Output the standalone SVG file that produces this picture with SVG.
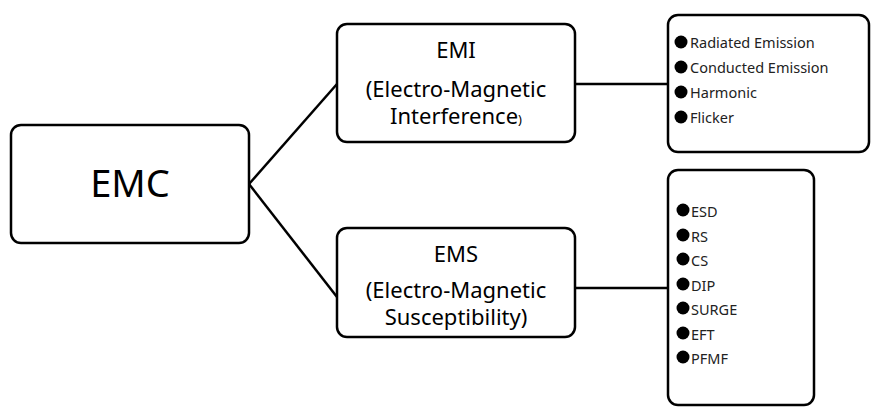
<svg xmlns="http://www.w3.org/2000/svg" width="880" height="420" viewBox="0 0 880 420">
<style>
.box{fill:#fff;stroke:#000;stroke-width:2.5}
.t{font-family:"Noto Sans","Open Sans",sans-serif;fill:#000;text-anchor:middle}
.li{font-family:"Noto Sans","Open Sans",sans-serif;fill:#222;font-size:14.5px}
.conn{stroke:#000;stroke-width:2.5;fill:none}
</style>
<rect width="880" height="420" fill="#fff"/>
<g id="connectors">
<line class="conn" x1="249" y1="184" x2="337" y2="84"/>
<line class="conn" x1="249" y1="184" x2="337" y2="297"/>
<line class="conn" x1="575" y1="84" x2="668" y2="84"/>
<line class="conn" x1="575" y1="288" x2="668" y2="288"/>
</g>
<g id="emc">
<rect class="box" x="11" y="125" width="238" height="118" rx="10"/>
<text class="t" x="130" y="197" font-size="38">EMC</text>
</g>
<g id="emi">
<rect class="box" x="337" y="24" width="238" height="118" rx="10"/>
<text class="t" x="456" y="58" font-size="22">EMI</text>
<text class="t" x="456" y="97" font-size="22">(Electro-Magnetic</text>
<text class="t" x="456" y="124" font-size="22">Interference<tspan font-size="13">)</tspan></text>
</g>
<g id="ems">
<rect class="box" x="337" y="228" width="238" height="109" rx="10"/>
<text class="t" x="456" y="262" font-size="22">EMS</text>
<text class="t" x="456" y="298" font-size="22">(Electro-Magnetic</text>
<text class="t" x="456" y="325" font-size="22">Susceptibility)</text>
</g>
<g id="emi-list">
<rect class="box" x="668" y="15" width="201" height="137" rx="10"/>
<circle cx="681" cy="42" r="6.5"/><text class="li" x="690" y="48">Radiated Emission</text>
<circle cx="681" cy="67" r="6.5"/><text class="li" x="690" y="73">Conducted Emission</text>
<circle cx="681" cy="92" r="6.5"/><text class="li" x="690" y="98">Harmonic</text>
<circle cx="681" cy="117" r="6.5"/><text class="li" x="690" y="123">Flicker</text>
</g>
<g id="ems-list">
<rect class="box" x="668" y="170" width="146" height="235" rx="10"/>
<circle cx="683" cy="210" r="6.5"/><text class="li" x="691" y="217">ESD</text>
<circle cx="683" cy="235" r="6.5"/><text class="li" x="691" y="242">RS</text>
<circle cx="683" cy="259" r="6.5"/><text class="li" x="691" y="266">CS</text>
<circle cx="683" cy="284" r="6.5"/><text class="li" x="691" y="291">DIP</text>
<circle cx="683" cy="308" r="6.5"/><text class="li" x="691" y="315">SURGE</text>
<circle cx="683" cy="333" r="6.5"/><text class="li" x="691" y="340">EFT</text>
<circle cx="683" cy="357" r="6.5"/><text class="li" x="691" y="364">PFMF</text>
</g>
</svg>
